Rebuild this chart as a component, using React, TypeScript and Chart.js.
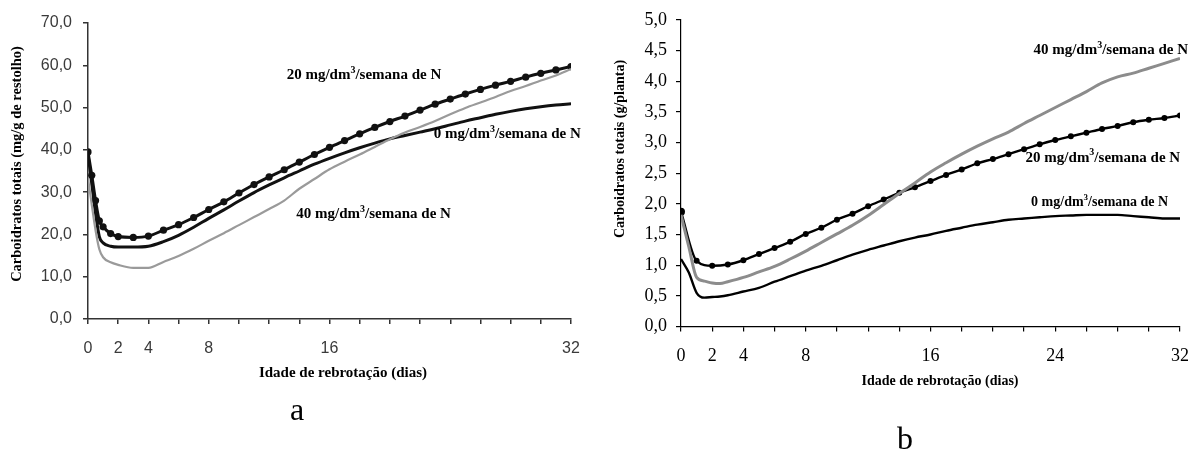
import React, { useEffect, useRef } from "react";
import { Chart, registerables } from "chart.js";

Chart.register(...registerables);

// ---------- Panel a : Carboidratos totais (mg/g de restolho) ----------
const daysA = [0, 0.25, 0.5, 0.75, 1, 1.5, 2, 3, 4, 5, 6, 7, 8, 9, 10, 11, 12, 13, 14, 15, 16, 17, 18, 19, 20, 21, 22, 23, 24, 25, 26, 27, 28, 29, 30, 31, 32];
const a0mg = [39.0, 32, 25, 19.5, 18.0, 17.2, 17.0, 17.0, 17.2, 18.3, 19.8, 21.7, 23.8, 25.8, 27.9, 29.9, 31.7, 33.4, 35.0, 36.6, 38.0, 39.3, 40.5, 41.6, 42.6, 43.4, 44.2, 45.0, 45.9, 46.8, 47.6, 48.4, 49.1, 49.7, 50.2, 50.6, 50.9];
const a20mg = [39.5, 34, 28, 23.2, 21.8, 20.2, 19.5, 19.3, 19.6, 21.0, 22.3, 24.0, 25.9, 27.7, 29.8, 31.8, 33.6, 35.3, 37.1, 38.9, 40.6, 42.2, 43.8, 45.3, 46.7, 48.0, 49.4, 50.8, 52.0, 53.2, 54.3, 55.3, 56.2, 57.2, 58.1, 58.9, 59.7];
const a40mg = [33.3, 27, 21, 16.5, 14.6, 13.4, 12.8, 12.1, 12.1, 13.5, 14.9, 16.6, 18.5, 20.3, 22.2, 24.1, 26.0, 28.0, 30.8, 33.1, 35.4, 37.2, 38.9, 40.7, 42.5, 44.1, 45.4, 46.8, 48.4, 49.9, 51.2, 52.5, 53.9, 55.1, 56.4, 57.6, 59.1];
const xLabelsA = [0, 2, 4, 8, 16, 32];

// ---------- Panel b : Carboidratos totais (g/planta) ----------
const daysB = [0, 0.5, 1, 1.5, 2, 2.5, 3, 4, 5, 6, 7, 8, 9, 10, 11, 12, 13, 14, 15, 16, 17, 18, 19, 20, 21, 22, 23, 24, 25, 26, 27, 28, 29, 30, 31, 32];
const b0mg = [1.10, 0.88, 0.55, 0.47, 0.48, 0.49, 0.51, 0.57, 0.63, 0.73, 0.82, 0.91, 0.99, 1.08, 1.17, 1.25, 1.32, 1.39, 1.45, 1.50, 1.56, 1.61, 1.66, 1.70, 1.74, 1.76, 1.78, 1.80, 1.81, 1.82, 1.82, 1.82, 1.80, 1.78, 1.76, 1.76];
const b40mg = [1.82, 1.30, 0.80, 0.74, 0.71, 0.70, 0.73, 0.80, 0.89, 0.98, 1.10, 1.23, 1.37, 1.51, 1.65, 1.81, 1.99, 2.17, 2.34, 2.52, 2.67, 2.81, 2.94, 3.06, 3.17, 3.31, 3.44, 3.57, 3.70, 3.83, 3.97, 4.07, 4.13, 4.21, 4.29, 4.37];
const daysB20 = [0, 1, 2, 3, 4, 5, 6, 7, 8, 9, 10, 11, 12, 13, 14, 15, 16, 17, 18, 19, 20, 21, 22, 23, 24, 25, 26, 27, 28, 29, 30, 31, 32];
const b20mg = [1.87, 1.07, 0.99, 1.01, 1.08, 1.18, 1.28, 1.38, 1.51, 1.61, 1.74, 1.84, 1.96, 2.07, 2.18, 2.27, 2.37, 2.47, 2.56, 2.66, 2.73, 2.81, 2.89, 2.97, 3.04, 3.10, 3.16, 3.22, 3.27, 3.33, 3.37, 3.40, 3.44];
const xLabelsB = [0, 2, 4, 8, 16, 24, 32];

const seriesNames = ["0 mg/dm³/semana de N", "20 mg/dm³/semana de N", "40 mg/dm³/semana de N"];
const xTitle = "Idade de rebrotação (dias)";
const yTitleA = "Carboidratos totais (mg/g de restolho)";
const yTitleB = "Carboidratos totais (g/planta)";
const panelA = "a";
const panelB = "b";

const SERIF = '"Liberation Serif", "Times New Roman", serif';
const SANS = '"Liberation Sans", Arial, sans-serif';

function pts(xs: number[], ys: number[]) {
  return xs.map((x, i) => ({ x, y: ys[i] }));
}

function drawRich(ctx: CanvasRenderingContext2D, text: string, x: number, y: number, size: number, weight: string, align: string) {
  const parts = text.split("³");
  const segs: { t: string; sup: boolean }[] = [];
  parts.forEach((p, i) => {
    if (i > 0) segs.push({ t: "3", sup: true });
    segs.push({ t: p, sup: false });
  });
  const fontOf = (s: { sup: boolean }) => `${weight} ${s.sup ? Math.round(size * 0.65) : size}px ${SERIF}`;
  let total = 0;
  for (const s of segs) {
    ctx.font = fontOf(s);
    total += ctx.measureText(s.t).width;
  }
  let cx = align === "right" ? x - total : x;
  ctx.textAlign = "left";
  ctx.textBaseline = "middle";
  for (const s of segs) {
    ctx.font = fontOf(s);
    ctx.fillText(s.t, cx, s.sup ? y - size * 0.33 : y);
    cx += ctx.measureText(s.t).width;
  }
}

const overlay = {
  id: "overlay",
  afterDraw(chart: any, _args: any, opts: any) {
    const ctx: CanvasRenderingContext2D = chart.ctx;
    const xs = chart.scales.x;
    const ys = chart.scales.y;
    ctx.save();
    ctx.fillStyle = "#000";
    for (const l of opts.labels || []) {
      drawRich(ctx, l.text, xs.getPixelForValue(l.day), ys.getPixelForValue(l.value), l.size, l.weight, l.align || "left");
    }
    for (const t of opts.texts || []) {
      ctx.save();
      ctx.translate(t.x, t.y);
      if (t.rot) ctx.rotate(t.rot);
      ctx.font = t.font;
      ctx.textAlign = "center";
      ctx.textBaseline = t.baseline || "middle";
      ctx.fillStyle = t.color || "#000";
      ctx.fillText(t.text, 0, 0);
      ctx.restore();
    }
    ctx.restore();
  },
};

const fmt = (v: any) => Number(v).toFixed(1).replace(".", ",");

function configA(): any {
  return {
    type: "line",
    data: {
      datasets: [
        { label: seriesNames[2], data: pts(daysA, a40mg), borderColor: "#9a9a9a", borderWidth: 2.2, pointRadius: 0, cubicInterpolationMode: "monotone" },
        { label: seriesNames[0], data: pts(daysA, a0mg), borderColor: "#111", borderWidth: 3, pointRadius: 0, cubicInterpolationMode: "monotone" },
        { label: seriesNames[1], data: pts(daysA, a20mg), borderColor: "#111", borderWidth: 3, pointRadius: 3.6, pointBackgroundColor: "#111", pointBorderWidth: 0, cubicInterpolationMode: "monotone" },
      ],
    },
    options: {
      responsive: false,
      animation: false,
      layout: { padding: { left: 0, top: 23, right: 29, bottom: 80 } },
      plugins: {
        legend: { display: false },
        tooltip: { enabled: false },
        overlay: {
          labels: [
            { text: seriesNames[1], day: 13.16, value: 57.7, size: 15, weight: "bold" },
            { text: seriesNames[0], day: 22.9, value: 43.7, size: 15, weight: "bold" },
            { text: seriesNames[2], day: 13.8, value: 24.7, size: 15, weight: "bold" },
          ],
          texts: [
            { text: yTitleA, x: 17.5, y: 164, rot: -Math.PI / 2, font: `bold 14.5px ${SERIF}` },
            { text: xTitle, x: 343, y: 373, font: `bold 15px ${SERIF}` },
            { text: panelA, x: 297, y: 420, font: `32px ${SERIF}`, baseline: "alphabetic" },
          ],
        },
      },
      scales: {
        x: {
          type: "linear",
          min: 0,
          max: 32,
          afterFit: (s: any) => { s.height = 60; },
          border: { display: true, color: "#333", width: 1.5 },
          grid: { drawOnChartArea: false, drawTicks: true, tickLength: 5, tickColor: "#333", lineWidth: 1.5 },
          ticks: {
            stepSize: 2, autoSkip: false, maxRotation: 0, padding: 15,
            color: "#3a3a3a", font: { family: SANS, size: 16 },
            callback: (v: any) => (xLabelsA.includes(Number(v)) ? String(v) : ""),
          },
        },
        y: {
          min: 0,
          max: 70,
          afterFit: (s: any) => { s.width = 88; },
          border: { display: true, color: "#333", width: 1.5 },
          grid: { drawOnChartArea: false, drawTicks: true, tickLength: 5, tickColor: "#333", lineWidth: 1.5 },
          ticks: { stepSize: 10, padding: 11, color: "#3a3a3a", font: { family: SANS, size: 16 }, callback: fmt },
        },
      },
    },
    plugins: [overlay],
  };
}

function configB(): any {
  return {
    type: "line",
    data: {
      datasets: [
        { label: seriesNames[0], data: pts(daysB, b0mg), borderColor: "#000", borderWidth: 2.4, pointRadius: 0, cubicInterpolationMode: "monotone" },
        { label: seriesNames[2], data: pts(daysB, b40mg), borderColor: "#8c8c8c", borderWidth: 3, pointRadius: 0, cubicInterpolationMode: "monotone" },
        { label: seriesNames[1], data: pts(daysB20, b20mg), borderColor: "#000", borderWidth: 2.4, pointRadius: (c: any) => (c.dataIndex === 0 ? 4 : 3), pointBackgroundColor: "#000", pointBorderWidth: 0, cubicInterpolationMode: "monotone" },
      ],
    },
    options: {
      responsive: false,
      animation: false,
      layout: { padding: { left: 0, top: 16, right: 24, bottom: 72.5 } },
      plugins: {
        legend: { display: false },
        tooltip: { enabled: false },
        overlay: {
          labels: [
            { text: seriesNames[2], day: 22.6, value: 4.5, size: 15, weight: "bold" },
            { text: seriesNames[1], day: 22.1, value: 2.75, size: 15, weight: "bold" },
            { text: seriesNames[0], day: 22.45, value: 2.02, size: 14, weight: "bold" },
          ],
          texts: [
            { text: yTitleB, x: 20, y: 149, rot: -Math.PI / 2, font: `bold 14px ${SERIF}` },
            { text: xTitle, x: 340, y: 381, font: `bold 14px ${SERIF}` },
            { text: panelB, x: 305, y: 449, font: `32px ${SERIF}`, baseline: "alphabetic" },
          ],
        },
      },
      scales: {
        x: {
          type: "linear",
          min: 0,
          max: 32,
          afterFit: (s: any) => { s.height = 60; },
          border: { display: true, color: "#000", width: 1.2 },
          grid: { drawOnChartArea: false, drawTicks: true, tickLength: 5, tickColor: "#000", lineWidth: 1.2 },
          ticks: {
            stepSize: 2, autoSkip: false, maxRotation: 0, padding: 14,
            color: "#000", font: { family: SERIF, size: 18 },
            callback: (v: any) => (xLabelsB.includes(Number(v)) ? String(v) : ""),
          },
        },
        y: {
          min: 0,
          max: 5,
          afterFit: (s: any) => { s.width = 81; },
          border: { display: true, color: "#000", width: 1.2 },
          grid: { drawOnChartArea: false, drawTicks: true, tickLength: 5, tickColor: "#000", lineWidth: 1.2 },
          ticks: { stepSize: 0.5, padding: 9, color: "#000", font: { family: SERIF, size: 18 }, callback: fmt },
        },
      },
    },
    plugins: [overlay],
  };
}

export default function App() {
  const refA = useRef<HTMLCanvasElement>(null);
  const refB = useRef<HTMLCanvasElement>(null);
  useEffect(() => {
    const ca = new Chart(refA.current as HTMLCanvasElement, configA());
    const cb = new Chart(refB.current as HTMLCanvasElement, configB());
    return () => {
      ca.destroy();
      cb.destroy();
    };
  }, []);
  return (
    <div style={{ position: "fixed", left: 0, top: 0, width: 1204, height: 459, background: "#fff", overflow: "hidden" }}>
      <canvas ref={refA} width={600} height={459} style={{ position: "absolute", left: 0, top: 0, width: 600, height: 459 }} />
      <canvas ref={refB} width={604} height={459} style={{ position: "absolute", left: 600, top: 0, width: 604, height: 459 }} />
    </div>
  );
}
